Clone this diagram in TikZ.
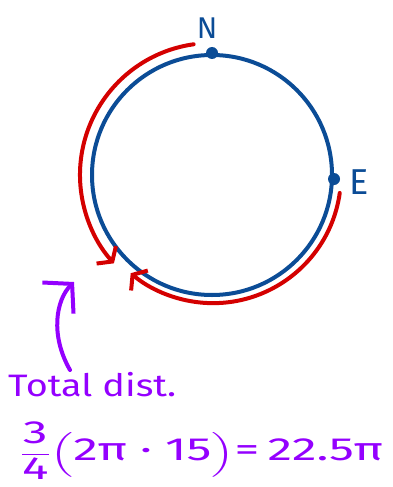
\documentclass[tikz,border=0pt]{standalone}
\usepackage{fontspec,amsmath}
\usetikzlibrary{arrows.meta}
\setmainfont{Fira Sans}
\definecolor{ink}{HTML}{0B4C96}
\definecolor{trail}{HTML}{D40000}
\definecolor{note}{HTML}{9400FF}
\begin{document}
\begin{tikzpicture}[x=1pt,y=1pt,line cap=round,line join=round,
  track/.style={circle,draw=ink,line width=4pt,inner sep=0pt,minimum size=240pt},
  dot/.style={circle,fill=ink,inner sep=0pt,minimum size=12pt},
  walk/.style={draw=trail,line width=4pt,-{Straight Barb[length=9pt,width=26pt]}},
  pointer/.style={draw=note,line width=4pt,-{Straight Barb[length=20pt,width=44pt]}},
  lbl/.style={text=ink,font=\fontsize{30}{32}\selectfont},
  memo/.style={anchor=west,text=note,inner sep=0pt,transform shape}]
\useasboundingbox (0,0) rectangle (393,-487);
\node[track] (loop) at (212,-175) {};
\node[dot] (n) at (loop.north) {};
\node[dot] (e) at ([yshift=-4pt]loop.east) {};
\node[lbl,anchor=south] (nlbl) at (207,-42) {N};
\node[lbl,anchor=west,font=\fontsize{36}{38}\selectfont] (elbl) at (346,-182) {E};
\coordinate (s1) at ([shift={(98:132)}]loop.center);
\coordinate (s2) at ([shift={(-8:129)}]loop.center);
\draw[walk] (s1) arc[start angle=98,end angle=222,radius=132] coordinate (t1);
\draw[walk] (s2) arc[start angle=-8,end angle=-130,radius=128] coordinate (t2);
\node[memo,font=\fontsize{31}{33}\selectfont,xscale=1.22] (dist) at (8,-385) {Total dist.};
\node[memo,font=\fontsize{32}{34}\selectfont,xscale=1.55] (calc) at (20,-451)
  {$\dfrac{\text{3}}{\text{4}}\Bigl(\text{2π · 15}\Bigr)$=\,22.5π};
\coordinate (p0) at (70,-370);
\coordinate (p1) at (74,-282);
\draw[pointer] (p0) .. controls (50,-335) and (56,-300) .. (p1);
\end{tikzpicture}
\end{document}
